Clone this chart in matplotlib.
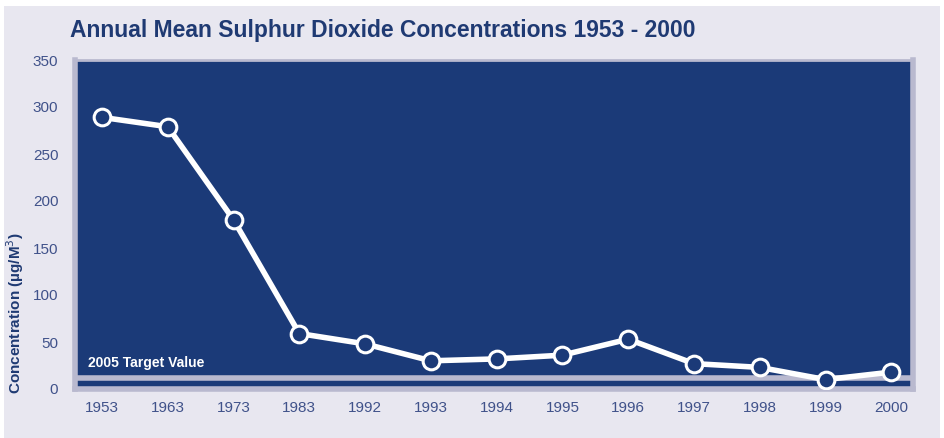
import matplotlib
matplotlib.use("Agg")
import matplotlib.pyplot as plt
from matplotlib.patches import Rectangle

# values
years = ["1953", "1963", "1973", "1983", "1992", "1993", "1994",
         "1995", "1996", "1997", "1998", "1999", "2000"]
so2 = [289, 279, 180, 59, 48, 30, 32, 36, 53, 27, 23, 10, 18]
target_value = 12
y_ticks = [0, 50, 100, 150, 200, 250, 300, 350]

NAVY = "#1b3a78"
TITLE = "#1f3a73"
TICK = "#40528a"
PANEL = "#e8e7f0"
FRAME = "#b9b9cf"

plt.rcParams["font.family"] = ["Liberation Sans", "DejaVu Sans"]

fig = plt.figure(figsize=(9.44, 4.38), dpi=100)
fig.patch.set_facecolor("white")
fig.patches.append(Rectangle((4 / 944, 0), 936 / 944, 432 / 438,
                             transform=fig.transFigure, facecolor=PANEL,
                             edgecolor="none", zorder=-10))

ax = fig.add_axes([75 / 944, 49 / 438, 838 / 944, 329 / 438])
ax.set_facecolor(NAVY)

x = list(range(len(years)))
ax.axhline(target_value, color=FRAME, lw=4, zorder=2)
ax.text(-0.21, target_value + 8, "2005 Target Value", color="white",
        fontsize=10, fontweight="bold", va="bottom", ha="left", zorder=3)

ax.plot(x, so2, color="white", lw=4, zorder=4, solid_joinstyle="round",
        marker="o", markersize=12, markerfacecolor=NAVY,
        markeredgecolor="white", markeredgewidth=2.2)

ax.set_xlim(-0.41, 12.33)
ax.set_ylim(0, 350)
ax.set_xticks(x)
ax.set_xticklabels(years)
ax.set_yticks(y_ticks)
ax.tick_params(length=0, colors=TICK, labelsize=11, pad=9)
ax.tick_params(axis="y", pad=12)

for side in ["left", "bottom", "right", "top"]:
    ax.spines[side].set_color(FRAME)
ax.spines["left"].set_linewidth(4)
ax.spines["bottom"].set_linewidth(4)
ax.spines["right"].set_linewidth(4)
ax.spines["top"].set_linewidth(2)

ax.set_ylabel("Concentration (µg/M$^3$)", color=TITLE, fontsize=11,
              fontweight="bold", va="center")
ax.yaxis.set_label_coords(-0.0716, 0.231)

fig.text(70 / 944, 1 - 30 / 438, "Annual Mean Sulphur Dioxide Concentrations 1953 - 2000",
         color=TITLE, fontsize=16.5, fontweight="bold", va="center", ha="left")

fig.savefig("out.png", dpi=100, facecolor=fig.get_facecolor())
